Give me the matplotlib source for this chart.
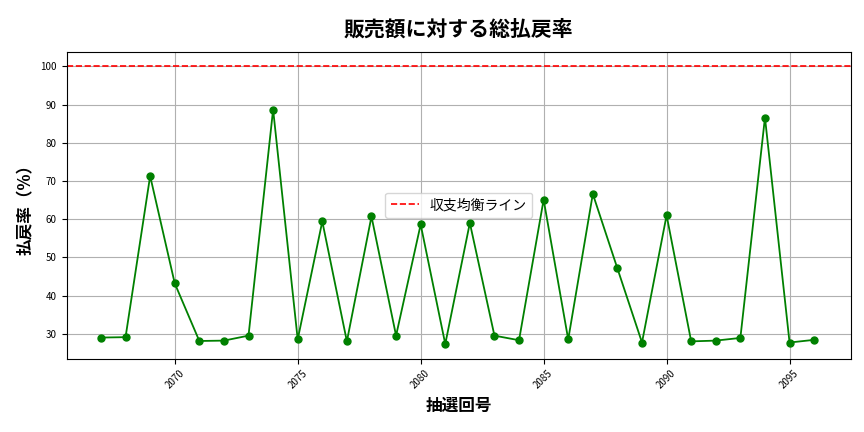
import matplotlib
matplotlib.use("Agg")
import matplotlib.pyplot as plt

plt.rcParams['font.family'] = ['Noto Sans CJK JP', 'DejaVu Sans']

draws = list(range(2067, 2097))
rates = [29.0, 29.1, 71.3, 43.2, 28.1, 28.2, 29.5, 88.7, 28.5, 59.4,
         28.0, 60.7, 29.5, 58.6, 27.3, 59.0, 29.5, 28.3, 65.1, 28.5,
         66.6, 47.1, 27.7, 61.0, 28.0, 28.2, 28.9, 86.6, 27.7, 28.4]

fig, ax = plt.subplots(figsize=(8.64, 4.32), dpi=100)
ax.plot(draws, rates, color='green', marker='o', markersize=5, linewidth=1.3)
ax.axhline(100, color='red', linestyle='--', linewidth=1.2, label='収支均衡ライン')
ax.set_title('販売額に対する総払戻率', fontsize=15, pad=12, fontweight='bold')
ax.set_xlabel('抽選回号', fontsize=12, fontweight='bold')
ax.set_ylabel('払戻率（%）', fontsize=12, fontweight='bold')
ax.grid(True, color='#b0b0b0', linewidth=0.8)
ax.set_xlim(2065.6, 2097.5)
ax.set_ylim(23.5, 103.8)
ax.tick_params(axis='x', labelsize=7, labelrotation=45)
ax.tick_params(axis='y', labelsize=7)
ax.legend(loc='center', fontsize=10)
fig.subplots_adjust(left=0.077, right=0.985, top=0.88, bottom=0.17)
fig.savefig('out.png', dpi=100)
